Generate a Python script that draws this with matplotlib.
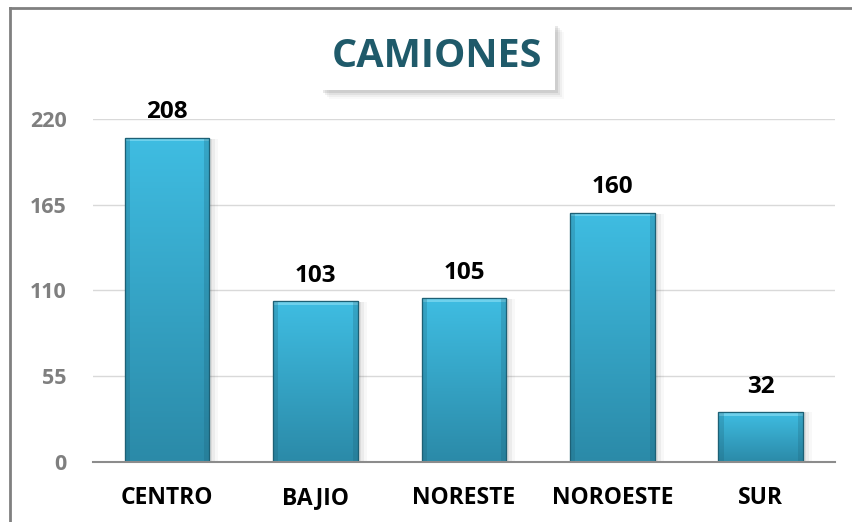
import numpy as np
import matplotlib.pyplot as plt
from matplotlib.patches import Rectangle
from matplotlib.lines import Line2D

categories = ['CENTRO', 'BAJIO', 'NORESTE', 'NOROESTE', 'SUR']
values = [208, 103, 105, 160, 32]
yticks = [0, 55, 110, 165, 220]

plt.rcParams['font.family'] = ['Open Sans', 'DejaVu Sans']

fig = plt.figure(figsize=(8.52, 5.22), dpi=100)
ax = fig.add_axes([0.109, 0.115, 0.871, 0.657])

x = np.arange(len(categories))
width = 0.57
bars = ax.bar(x, values, width=width, color='#36a6c9', edgecolor='#1d6075',
              linewidth=0.8, zorder=3)

# degradado vertical + sombra por barra
grad = np.linspace(0, 1, 256).reshape(-1, 1)
cmap = plt.matplotlib.colors.LinearSegmentedColormap.from_list(
    'barra', ['#2b8aa8', '#3fbde2'])
for b in bars:
    bx, by = b.get_x(), b.get_y()
    bw, bh = b.get_width(), b.get_height()
    for k, a in enumerate([0.10, 0.07, 0.04]):
        ax.add_patch(Rectangle((bx + 0.02 + k * 0.02, by), bw, bh * 0.995,
                               color='#555555', alpha=a, lw=0, zorder=2))
    im = ax.imshow(grad, cmap=cmap, aspect='auto', origin='lower',
                   extent=[bx, bx + bw, by, by + bh], zorder=3.5)
    im.set_clip_path(b)
    # bisel: franja clara arriba, bordes laterales mas oscuros
    ax.add_patch(Rectangle((bx, by + bh - 2.2), bw, 2.2, color='#8fe0f5',
                           alpha=0.6, lw=0, zorder=3.7))
    ax.add_patch(Rectangle((bx, by), bw * 0.06, bh, color='#1d6075',
                           alpha=0.25, lw=0, zorder=3.7))
    ax.add_patch(Rectangle((bx + bw * 0.94, by), bw * 0.06, bh, color='#1d6075',
                           alpha=0.25, lw=0, zorder=3.7))
    ax.add_patch(Rectangle((bx, by), bw, bh, fill=False, ec='#1d6075',
                           lw=0.9, zorder=4))
    ax.text(b.get_x() + bw / 2, bh + 8.5, str(int(bh)), ha='center', va='bottom',
            fontsize=17.5, fontweight='bold', color='black', zorder=5)

ax.set_xlim(-0.5, len(categories) - 0.5)
ax.set_ylim(0, 220)
ax.set_yticks(yticks)
ax.set_xticks(x)
ax.set_xticklabels(categories, fontsize=16.5, fontweight='bold', color='black')
for t in ax.get_yticklabels():
    t.set_fontsize(15.5)
    t.set_fontweight('bold')
    t.set_color('#7f7f7f')
ax.tick_params(axis='y', length=0, pad=19)
ax.tick_params(axis='x', length=0, pad=17)
ax.yaxis.grid(True, color='#d9d9d9', lw=1, zorder=0)
for s in ['top', 'right', 'left']:
    ax.spines[s].set_visible(False)
ax.spines['bottom'].set_color('#8c8c8c')
ax.spines['bottom'].set_linewidth(1.5)
ax.spines['bottom'].set_zorder(6)

# marco exterior
fig.add_artist(Line2D([10 / 852, 10 / 852], [0, 1 - 8 / 522],
                      transform=fig.transFigure, color='#808080', lw=2))
fig.add_artist(Line2D([10 / 852, 1], [1 - 8 / 522, 1 - 8 / 522],
                      transform=fig.transFigure, color='#808080', lw=2))

# titulo con caja y sombra
x0, y0, w, h = 320 / 852, 1 - 90 / 522, 235 / 852, 67 / 522
for k, a in enumerate([0.12, 0.08, 0.05, 0.03]):
    fig.add_artist(Rectangle((x0 + (3 + k * 2) / 852, y0 - (3 + k * 2) / 522), w, h,
                             transform=fig.transFigure, color='#444444',
                             alpha=a, lw=0))
fig.add_artist(Rectangle((x0, y0), w, h, transform=fig.transFigure,
                         color='white', lw=0))
fig.text(x0 + w / 2, y0 + h / 2, 'CAMIONES', ha='center', va='center',
         fontsize=28.5, fontweight='bold', color='#1f5a6a')

fig.savefig('out.png', dpi=100)
